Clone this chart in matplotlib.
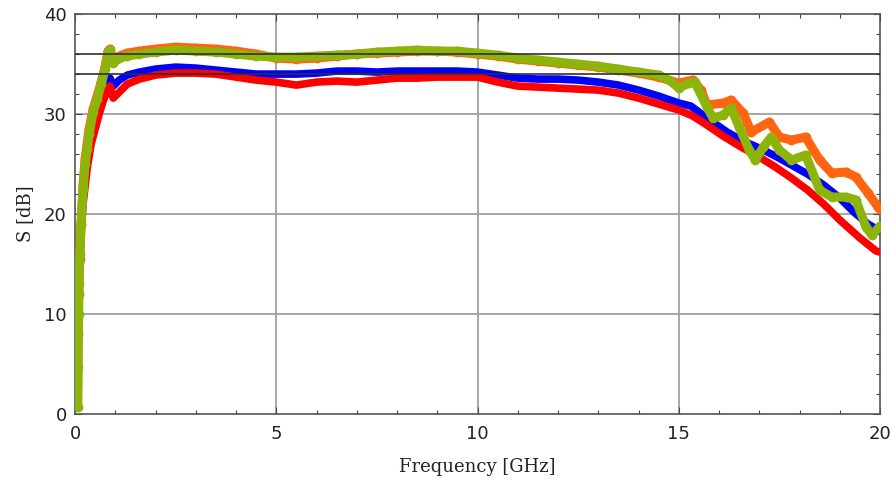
import numpy as np
import matplotlib.pyplot as plt
from matplotlib.ticker import MultipleLocator

# S-parameter traces (frequency in GHz, level in dB)
red_f = [0.0, 0.02, 0.04, 0.06, 0.08, 0.1, 0.15, 0.2, 0.3, 0.4, 0.5, 0.6, 0.7, 0.8, 0.87, 0.95,
         1.1, 1.3, 1.6, 2.0, 2.5, 3.0, 3.5, 4.0, 4.5, 5.0, 5.5, 6.0, 6.5, 7.0, 7.5, 8.0, 8.5,
         9.0, 9.5, 10.0, 10.5, 11.0, 11.5, 12.0, 12.5, 13.0, 13.5, 14.0, 14.5, 15.0, 15.35,
         15.7, 16.1, 16.55, 17.0, 17.4, 17.8, 18.2, 18.6, 19.0, 19.5, 19.9, 20.0]
red_s = [1.0, 4.0, 7.5, 10.5, 12.5, 14.5, 18.0, 21.0, 24.5, 27.0, 28.5, 30.0, 31.3, 32.3, 32.8, 31.6,
         32.2, 33.0, 33.5, 33.9, 34.1, 34.1, 34.0, 33.7, 33.4, 33.2, 32.9, 33.2, 33.3, 33.2, 33.4, 33.6, 33.6,
         33.7, 33.7, 33.7, 33.2, 32.8, 32.7, 32.6, 32.5, 32.4, 32.1, 31.6, 31.0, 30.4, 29.8,
         28.9, 27.8, 26.7, 25.7, 24.7, 23.6, 22.4, 21.0, 19.4, 17.6, 16.3, 16.2]

blue_f = [0.0, 0.02, 0.04, 0.06, 0.08, 0.1, 0.15, 0.2, 0.3, 0.4, 0.5, 0.6, 0.7, 0.8, 0.87, 0.95,
          1.1, 1.3, 1.6, 2.0, 2.5, 3.0, 3.5, 4.0, 4.5, 5.0, 5.5, 6.0, 6.5, 7.0, 7.5, 8.0, 8.5,
          9.0, 9.5, 10.0, 10.5, 11.0, 11.5, 12.0, 12.5, 13.0, 13.5, 14.0, 14.5, 15.0, 15.3,
          15.7, 16.2, 16.6, 17.0, 17.4, 17.8, 18.2, 18.6, 19.0, 19.35, 19.7, 20.0]
blue_s = [2.0, 5.0, 8.5, 11.5, 14.0, 16.0, 19.5, 22.5, 26.0, 28.5, 30.0, 31.3, 32.5, 33.3, 33.6, 32.8,
          33.4, 33.9, 34.2, 34.5, 34.7, 34.6, 34.4, 34.2, 34.0, 34.0, 34.0, 34.1, 34.3, 34.3, 34.2, 34.3, 34.3,
          34.3, 34.3, 34.2, 33.9, 33.6, 33.5, 33.5, 33.4, 33.2, 32.9, 32.4, 31.8, 31.1, 30.8,
          29.6, 28.2, 27.3, 26.6, 25.8, 24.9, 24.0, 22.9, 21.6, 20.2, 19.0, 18.3]

orange_f = [0.05, 0.07, 0.09, 0.12, 0.15, 0.2, 0.25, 0.3, 0.35, 0.45, 0.55, 0.65, 0.75, 0.82, 0.87, 0.95,
            1.1, 1.3, 1.6, 2.0, 2.5, 3.0, 3.5, 4.0, 4.5, 5.0, 5.5, 6.0, 6.5, 7.0, 7.5, 8.0, 8.5,
            9.0, 9.5, 10.0, 10.5, 11.0, 11.5, 12.0, 12.5, 13.0, 13.5, 14.0, 14.5, 15.0, 15.35,
            15.55, 15.7, 16.1, 16.3, 16.6, 16.8, 17.25, 17.5, 17.8, 18.15, 18.5, 18.8, 19.15,
            19.4, 19.7, 19.95, 20.0]
orange_s = [3.0, 8.0, 12.0, 15.5, 19.0, 23.0, 25.5, 27.0, 28.5, 30.5, 31.8, 33.2, 34.8, 36.3, 36.5, 35.3,
            35.8, 36.1, 36.3, 36.5, 36.7, 36.6, 36.5, 36.3, 36.0, 35.6, 35.5, 35.6, 35.8, 36.0, 36.1, 36.2, 36.3,
            36.3, 36.2, 36.0, 35.8, 35.5, 35.3, 35.1, 34.9, 34.7, 34.4, 34.1, 33.7, 33.1, 33.4,
            32.4, 30.9, 31.1, 31.4, 30.1, 28.2, 29.2, 27.7, 27.4, 27.7, 25.4, 24.1, 24.2,
            23.7, 22.1, 20.7, 20.5]

green_f = [0.07, 0.08, 0.09, 0.1, 0.12, 0.15, 0.2, 0.25, 0.3, 0.35, 0.45, 0.55, 0.65, 0.75, 0.82, 0.87, 0.95,
           1.1, 1.3, 1.6, 2.0, 2.5, 3.0, 3.5, 4.0, 4.5, 5.0, 5.5, 6.0, 6.5, 7.0, 7.5, 8.0, 8.5,
           9.0, 9.5, 10.0, 10.5, 11.0, 11.5, 12.0, 12.5, 13.0, 13.5, 14.0, 14.5, 14.8, 15.0, 15.25,
           15.4, 15.7, 15.85, 16.1, 16.3, 16.5, 16.75, 16.9, 17.1, 17.3, 17.5, 17.8, 18.15, 18.5,
           18.8, 19.15, 19.4, 19.65, 19.8, 20.0]
green_s = [0.7, 4.7, 10.0, 13.0, 16.0, 19.0, 22.5, 25.0, 26.5, 28.0, 30.2, 31.5, 33.0, 34.5, 36.2, 36.4, 35.1,
           35.6, 35.8, 36.0, 36.2, 36.4, 36.3, 36.2, 36.0, 35.8, 35.7, 35.7, 35.8, 35.9, 36.0, 36.2, 36.3, 36.4,
           36.3, 36.3, 36.1, 35.9, 35.6, 35.4, 35.2, 35.0, 34.8, 34.5, 34.2, 33.9, 33.3, 32.6, 33.1,
           33.2, 30.7, 29.6, 29.9, 30.6, 28.7, 26.4, 25.4, 26.7, 27.7, 26.4, 25.4, 25.9, 22.4,
           21.7, 21.7, 21.4, 18.7, 17.9, 18.8]

ref_levels = [34, 36]

fig = plt.figure(figsize=(8.93, 4.87), dpi=100)
ax = fig.add_axes([0.084, 0.150, 0.9015, 0.821])

ax.plot(blue_f, blue_s, color='#0000ff', lw=5.5, solid_capstyle='round', solid_joinstyle='round', zorder=2)
ax.plot(red_f, red_s, color='#ff0000', lw=5.5, solid_capstyle='round', solid_joinstyle='round', zorder=3)
ax.plot(orange_f, orange_s, color='#ff6410', lw=6.5, marker='o', ms=6, solid_capstyle='round',
        solid_joinstyle='round', zorder=4)
ax.plot(green_f, green_s, color='#8cb40a', lw=6.5, marker='o', ms=6, solid_capstyle='round',
        solid_joinstyle='round', zorder=5)

for lvl in ref_levels:
    ax.axhline(lvl, color='#303030', lw=1.2, zorder=6)

for gx in [5, 10, 15]:
    ax.axvline(gx, color='#a0a0a0', lw=1.3, zorder=1)
for gy in [10, 20, 30]:
    ax.axhline(gy, color='#a0a0a0', lw=1.3, zorder=1)

ax.set_xlim(0, 20)
ax.set_ylim(0, 40)
ax.xaxis.set_major_locator(MultipleLocator(5))
ax.xaxis.set_minor_locator(MultipleLocator(1))
ax.yaxis.set_major_locator(MultipleLocator(10))
ax.yaxis.set_minor_locator(MultipleLocator(2))
ax.tick_params(which='both', direction='in', top=True, right=True, color='#444444', labelsize=13,
               labelcolor='#222222')
ax.tick_params(which='major', length=5, width=0.8)
ax.tick_params(which='minor', length=3, width=0.8)
ax.tick_params(axis='x', pad=8)
ax.tick_params(axis='y', pad=6)
for sp in ax.spines.values():
    sp.set_color('#555555')
    sp.set_linewidth(1.2)

ax.set_xlabel('Frequency [GHz]', family='DejaVu Serif', fontsize=13, color='#222222', labelpad=11)
ax.set_ylabel('S [dB]', family='DejaVu Serif', fontsize=13, color='#222222', labelpad=7)

fig.savefig('out.png', dpi=100)
